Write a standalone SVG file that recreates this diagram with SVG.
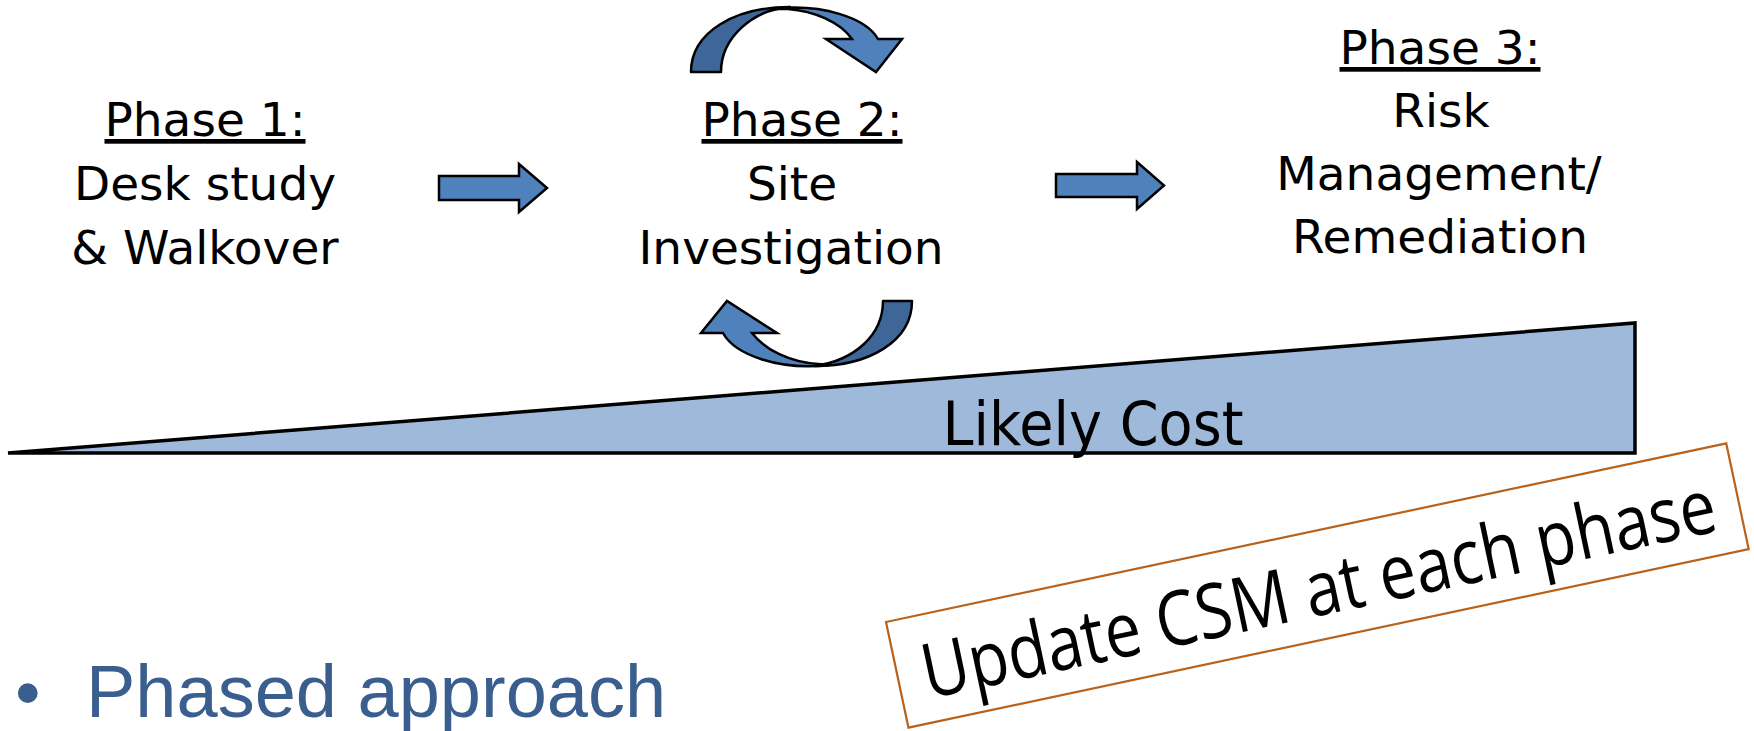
<svg xmlns="http://www.w3.org/2000/svg" width="1754" height="731" viewBox="0 0 1754 731">
  <style>
    .ph { font-family: "DejaVu Sans", Verdana, sans-serif; font-size: 47px; fill: #000; text-anchor: middle; }
    .ul { text-decoration: underline; }
    .arrow { fill: #4f81bd; stroke: #000; stroke-width: 2.5; stroke-linejoin: miter; }
    .dark { fill: #3e6698; stroke: #000; stroke-width: 2.5; stroke-linejoin: round; }
  </style>
  <rect x="0" y="0" width="1754" height="731" fill="#ffffff"/>

  <g id="cost">
    <polygon points="8,453 1635,323 1635,453" fill="#9eb9da" stroke="#000" stroke-width="3.5" stroke-linejoin="miter"/>
    <text x="1093" y="445" font-family="DejaVu Sans, Verdana, sans-serif" font-size="61" text-anchor="middle" textLength="301" lengthAdjust="spacingAndGlyphs">Likely Cost</text>
  </g>

  <g id="phase1">
    <text class="ph" x="205" y="136"><tspan class="ul">Phase 1:</tspan></text>
    <text class="ph" x="205" y="200">Desk study</text>
    <text class="ph" x="205" y="264">&amp; Walkover</text>
  </g>

  <g id="phase2">
    <text class="ph" x="802" y="136"><tspan class="ul">Phase 2:</tspan></text>
    <text class="ph" x="792" y="200">Site</text>
    <text class="ph" x="791" y="264">Investigation</text>
  </g>

  <g id="phase3">
    <text class="ph" x="1440" y="64"><tspan class="ul">Phase 3:</tspan></text>
    <text class="ph" x="1441" y="127">Risk</text>
    <text class="ph" x="1439" y="190">Management/</text>
    <text class="ph" x="1440" y="253">Remediation</text>
  </g>

  <g id="connectors">
    <polygon class="arrow" points="439,176 519,176 519,164 547,188 519,212 519,200 439,200"/>
    <polygon class="arrow" points="1056,174 1137,174 1137,162 1164,185.5 1137,209 1137,197 1056,197"/>
    <g id="loop-top">
      <path class="dark" d="M691,72 C691,32 735,7 790,7 C752,10 721,38 721,72 Z"/>
      <path class="arrow" d="M772,9 C822,3 866,18 878,39 L902,39 L876,72 L826,39 L852,39 C840,22 814,11 788,9 Z"/>
    </g>
    <g id="loop-bottom">
      <path class="dark" d="M912,301 C912,342 868,366 815,366 C855,360 883,335 883,301 Z"/>
      <path class="arrow" d="M830,365 C780,371 735,355 723,333 L701,333 L727,301 L777,333 L752,333 C765,350 790,362 818,364 Z"/>
    </g>
  </g>

  <g id="csm-note" transform="translate(886,622) rotate(-12)">
    <rect x="0" y="0" width="859" height="108" fill="#ffffff" stroke="#b8621b" stroke-width="2.2"/>
    <text x="430" y="84" font-family="Open Sans, Noto Sans, sans-serif" font-size="76" text-anchor="middle" textLength="810" lengthAdjust="spacingAndGlyphs">Update CSM at each phase</text>
  </g>

  <g id="bullet">
    <text x="15" y="717" font-family="Liberation Sans, Arial, sans-serif" font-size="73" fill="#3a5f8f">•</text>
    <text x="86" y="717" font-family="Liberation Sans, Arial, sans-serif" font-size="74" fill="#3a5f8f">Phased approach</text>
  </g>
</svg>
